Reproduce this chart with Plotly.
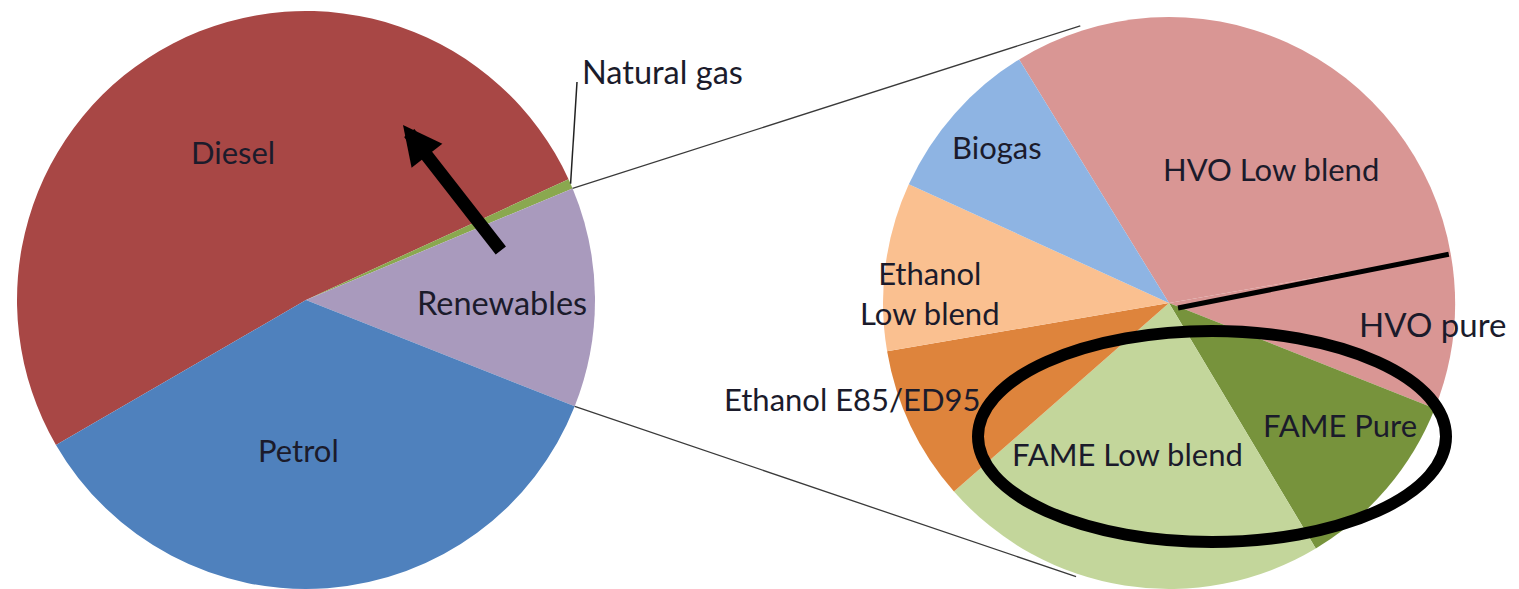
import math
import plotly.graph_objects as go

W, H = 1519, 589
OFF = 8  # page body margin compensation

# ---- data ----
main_labels = ["Diesel", "Natural gas", "Renewables", "Petrol"]
main_values = [51.5, 0.55, 12.31, 35.64]
main_colors = ["#A84745", "#8AA84F", "#A99ABD", "#4F81BD"]

renew_labels = ["HVO Low blend", "HVO pure", "FAME Pure", "FAME Low blend",
                "Ethanol E85/ED95", "Ethanol Low blend", "Biogas"]
renew_values = [31.0, 8.75, 10.4, 22.1, 8.75, 9.5, 9.4]
renew_colors = ["#D99694", "#D99694", "#77933C", "#C3D69B",
                "#DE843C", "#FAC090", "#8EB4E3"]

# ---- geometry (page pixels) ----
L_CX, L_CY, L_R, L_ROT = 306, 300, 289, -120.1
R_CX, R_CY, R_R, R_ROT = 1169, 303, 286, -31.6

def px(x):
    return (x - OFF) / W

def py(y):
    return 1 - (y - OFF) / H

def dom(cx, cy, r):
    return dict(x=[px(cx - r), px(cx + r)], y=[py(cy + r), py(cy - r)])

def pt(cx, cy, r, a):
    t = math.radians(a)
    return cx + r * math.sin(t), cy - r * math.cos(t)

def bounds(values, rot):
    tot = sum(values)
    out = [rot]
    c = 0
    for v in values:
        c += v
        out.append(rot + 360 * c / tot)
    return out

def tangent(P, C, R, upper):
    d = math.hypot(C[0] - P[0], C[1] - P[1])
    th = math.atan2(P[1] - C[1], P[0] - C[0])
    ph = math.acos(R / d)
    cands = [(C[0] + R * math.cos(th + s * ph), C[1] + R * math.sin(th + s * ph)) for s in (1, -1)]
    cands.sort(key=lambda q: q[1])
    return cands[0] if upper else cands[1]

fig = go.Figure()
fig.add_trace(go.Pie(labels=main_labels, values=main_values, sort=False,
                     direction="clockwise", rotation=L_ROT,
                     marker=dict(colors=main_colors, line=dict(width=0)),
                     textinfo="none", hoverinfo="label+percent",
                     domain=dom(L_CX, L_CY, L_R)))
fig.add_trace(go.Pie(labels=renew_labels, values=renew_values, sort=False,
                     direction="clockwise", rotation=R_ROT,
                     marker=dict(colors=renew_colors, line=dict(width=0)),
                     textinfo="none", hoverinfo="label+percent",
                     domain=dom(R_CX, R_CY, R_R)))

lb = bounds(main_values, L_ROT)
rb = bounds(renew_values, R_ROT)

shapes = []
# connector lines
p_up = pt(L_CX, L_CY, L_R, lb[2])
p_dn = pt(L_CX, L_CY, L_R, lb[3])
t_up = tangent(p_up, (R_CX, R_CY), R_R + 5, True)
t_dn = tangent(p_dn, (R_CX, R_CY), R_R + 3, False)
for a, b in ((p_up, t_up), (p_dn, t_dn)):
    shapes.append(dict(type="line", xref="paper", yref="paper",
                       x0=px(a[0]), y0=py(a[1]), x1=px(b[0]), y1=py(b[1]),
                       line=dict(color="#3a3a3a", width=1.3)))
# natural gas leader
ng = pt(L_CX, L_CY, L_R, (lb[1] + lb[2]) / 2)
shapes.append(dict(type="line", xref="paper", yref="paper",
                   x0=px(ng[0]), y0=py(ng[1]), x1=px(577), y1=py(82),
                   line=dict(color="#222222", width=1.5)))
# thick line between HVO slices
hv = pt(R_CX, R_CY, R_R - 2, rb[1])
shapes.append(dict(type="line", xref="paper", yref="paper",
                   x0=px(R_CX + 9), y0=py(R_CY + 5), x1=px(hv[0]), y1=py(hv[1]),
                   line=dict(color="black", width=5)))
# ellipse around FAME
shapes.append(dict(type="circle", xref="paper", yref="paper",
                   x0=px(978), x1=px(1446), y0=py(331), y1=py(542),
                   line=dict(color="black", width=12)))

FONT = "Lato"
TC = "#1b1b2b"
labels = [
    ("Diesel", 233, 152, 31, "center"),
    ("Renewables", 502, 302, 32.5, "center"),
    ("Petrol", 298, 450, 31, "center"),
    ("Natural gas", 580, 71, 32.5, "left"),
    ("Biogas", 997, 147, 31, "center"),
    ("HVO Low blend", 1271, 169, 31, "center"),
    ("Ethanol<br>Low blend", 930, 293, 31, "center"),
    ("HVO pure", 1432, 324, 33, "center"),
    ("Ethanol E85/ED95", 852, 399, 31, "center"),
    ("FAME Low blend", 1127, 454, 31, "center"),
    ("FAME Pure", 1340, 425, 31, "center"),
]
ann = []
for t, x, y, s, anc in labels:
    ann.append(dict(text=t, x=px(x), y=py(y), xref="paper", yref="paper",
                    xanchor=anc, yanchor="middle", showarrow=False, align="center",
                    font=dict(family=FONT, size=s, color=TC)))
# black arrow
ann.append(dict(text="", x=px(403), y=py(125), xref="paper", yref="paper",
                ax=99, ay=127, showarrow=True, arrowhead=2, arrowwidth=13,
                arrowsize=0.6, arrowcolor="black", standoff=0))

fig.update_layout(width=W, height=H, margin=dict(l=0, r=0, t=0, b=0),
                  paper_bgcolor="white", plot_bgcolor="white", showlegend=False,
                  shapes=shapes, annotations=ann)
fig.write_html("out.html")
